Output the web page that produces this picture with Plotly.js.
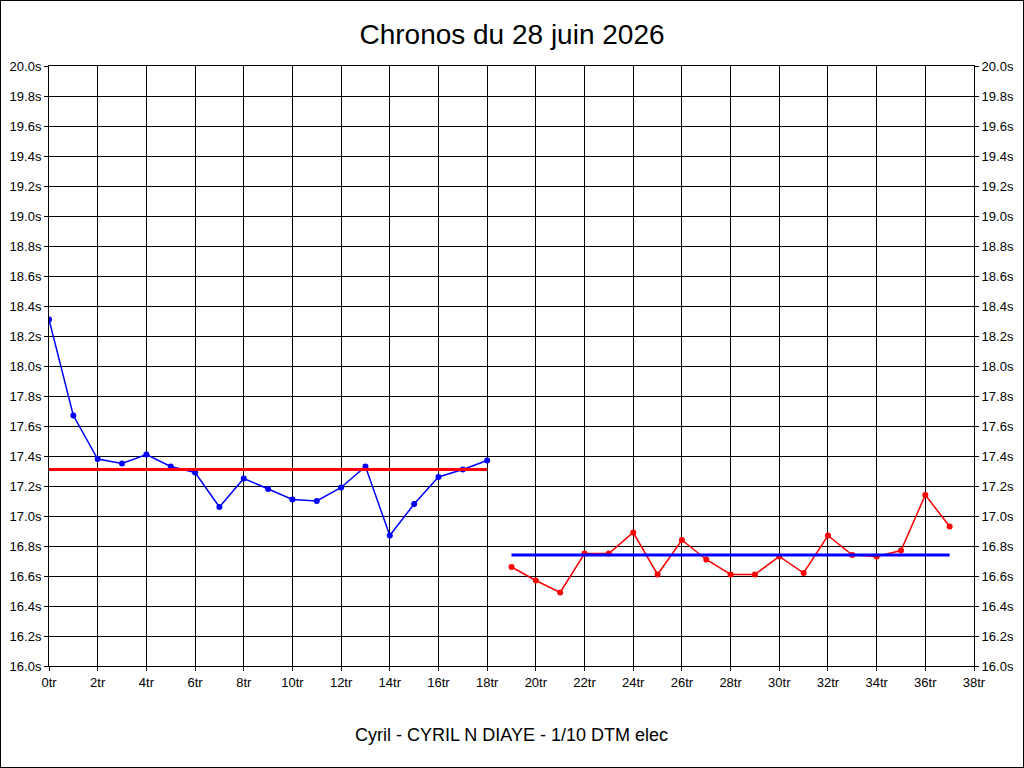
<!DOCTYPE html>
<html><head><meta charset="utf-8">
<script src="https://cdn.plot.ly/plotly-3.0.1.min.js"></script>
<style>body{margin:0}#plot{width:1024px;height:768px;box-sizing:border-box;border:1px solid #000}</style>
</head><body><div id="plot"></div>
<script>
// tours 0..18 (série 1) et 19..37 (série 2)
const lapsA = [0,1,2,3,4,5,6,7,8,9,10,11,12,13,14,15,16,17,18];
const timesA = [18.31,17.67,17.38,17.35,17.41,17.33,17.29,17.06,17.25,17.18,17.11,17.10,17.19,17.33,16.87,17.08,17.26,17.31,17.37];
const lapsB = [19,20,21,22,23,24,25,26,27,28,29,30,31,32,33,34,35,36,37];
const timesB = [16.66,16.57,16.49,16.75,16.75,16.89,16.61,16.84,16.71,16.61,16.61,16.73,16.62,16.87,16.74,16.73,16.77,17.14,16.93];
const meanA = 17.31, meanB = 16.74;

const xTicks = [], xLabels = [];
for (let i = 0; i <= 38; i += 2) { xTicks.push(i); xLabels.push(i + 'tr'); }
const yTicks = [], yLabels = [];
for (let i = 0; i <= 20; i++) { const v = 16 + i * 0.2; yTicks.push(v); yLabels.push(v.toFixed(1) + 's'); }

const data = [
  {x: lapsA, y: timesA, mode: 'lines+markers', line: {color: '#0000ff', width: 1.5}, marker: {color: '#0000ff', size: 6}},
  {x: [0, 18], y: [meanA, meanA], mode: 'lines', line: {color: '#ff0000', width: 3}},
  {x: lapsB, y: timesB, mode: 'lines+markers', line: {color: '#ff0000', width: 1.5}, marker: {color: '#ff0000', size: 6}},
  {x: [19, 37], y: [meanB, meanB], mode: 'lines', line: {color: '#0000ff', width: 3}},
  {x: [0], y: [16], yaxis: 'y2', mode: 'markers', marker: {opacity: 0}, hoverinfo: 'skip'}
];

const axisFont = {family: 'Arial, Liberation Sans', size: 13, color: '#000'};
const layout = {
  width: 1022, height: 766,
  margin: {l: 48, r: 49, t: 65, b: 101},
  showlegend: false,
  paper_bgcolor: '#fff', plot_bgcolor: '#fff',
  title: {text: 'Chronos du 28 juin 2026', font: {family: 'Arial, Liberation Sans', size: 28, color: '#000'}, x: 0.5, y: 0.97},
  xaxis: {range: [0, 38], tickvals: xTicks, ticktext: xLabels, showgrid: true, gridcolor: '#000', gridwidth: 1,
          zeroline: false, showline: true, linecolor: '#000', mirror: true, ticks: 'outside', ticklen: 4, tickcolor: '#000', tickfont: axisFont},
  yaxis: {range: [16, 20], tickvals: yTicks, ticktext: yLabels, showgrid: true, gridcolor: '#000', gridwidth: 1,
          zeroline: false, showline: true, linecolor: '#000', mirror: true, ticks: 'outside', ticklen: 4, tickcolor: '#000', tickfont: axisFont},
  yaxis2: {range: [16, 20], overlaying: 'y', side: 'right', tickvals: yTicks, ticktext: yLabels, showgrid: false,
           zeroline: false, ticks: 'outside', ticklen: 4, tickcolor: '#000', tickfont: axisFont},
  annotations: [{text: 'Cyril - CYRIL N DIAYE - 1/10 DTM elec', xref: 'paper', yref: 'paper', x: 0.5, y: -0.115,
                 yanchor: 'middle', showarrow: false, font: {family: 'Arial, Liberation Sans', size: 18, color: '#000'}}]
};
Plotly.newPlot('plot', data, layout, {displayModeBar: false});
</script></body></html>
